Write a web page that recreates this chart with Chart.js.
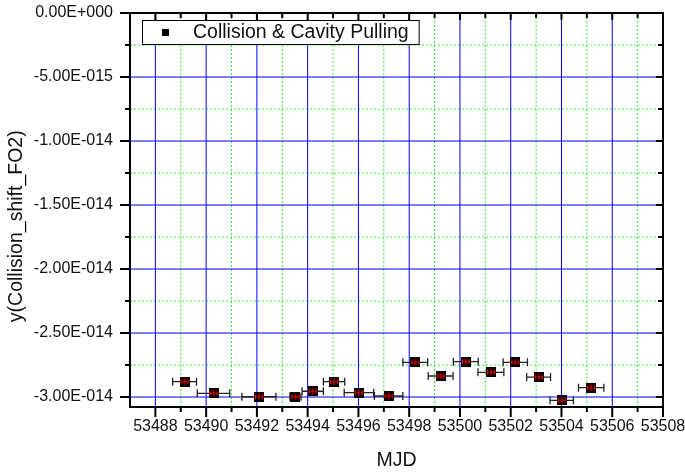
<!DOCTYPE html>
<html>
<head>
<meta charset="utf-8">
<script src="https://cdn.jsdelivr.net/npm/chart.js@4/dist/chart.umd.min.js"></script>
<style>
  html, body { margin: 0; padding: 0; background: #ffffff; }
  canvas { display: block; }
</style>
</head>
<body>
<canvas id="chart" width="685" height="475"></canvas>
<script>
// Collision shift of FO2 versus MJD, with the MJD span of each run as x error
const mjd = [53489.15, 53490.29, 53492.08, 53493.52, 53494.20, 53495.04, 53496.02, 53497.19,
             53498.24, 53499.24, 53500.23, 53501.22, 53502.18, 53503.10, 53504.01, 53505.17];
const mjdErr = [0.47, 0.64, 0.67, 0.22, 0.42, 0.42, 0.58, 0.56,
                0.49, 0.49, 0.49, 0.51, 0.48, 0.47, 0.46, 0.50];
const collisionShift = [-2.880e-14, -2.971e-14, -2.998e-14, -2.998e-14, -2.955e-14, -2.880e-14, -2.966e-14, -2.992e-14,
                        -2.729e-14, -2.836e-14, -2.724e-14, -2.807e-14, -2.729e-14, -2.844e-14, -3.026e-14, -2.927e-14];

const xTicks = [53488, 53490, 53492, 53494, 53496, 53498, 53500, 53502, 53504, 53506, 53508];
const xMinorTicks = [53489, 53491, 53493, 53495, 53497, 53499, 53501, 53503, 53505, 53507];
const yTicks = [0, -5e-15, -1e-14, -1.5e-14, -2e-14, -2.5e-14, -3e-14];
const yMinorTicks = [-2.5e-15, -7.5e-15, -1.25e-14, -1.75e-14, -2.25e-14, -2.75e-14];

const seriesLabel = 'Collision & Cavity Pulling';
const xTitle = 'MJD';
const yTitle = 'y(Collision_shift_FO2)';

const FONT = "'Liberation Sans', Arial, Helvetica, sans-serif";

// Origin-style exponent label: -5.00E-015
function sci(v) {
  if (Math.abs(v) < 1e-30) return '0.00E+000';
  const parts = v.toExponential(2).split('e');
  const n = parseInt(parts[1], 10);
  return parts[0] + 'E' + (n < 0 ? '-' : '+') + String(Math.abs(n)).padStart(3, '0');
}

// Marker: black square with a red cross bar
function makeMarker(size) {
  const c = document.createElement('canvas');
  c.width = size; c.height = size;
  const g = c.getContext('2d');
  g.fillStyle = '#000000';
  g.fillRect(0, 0, size, size);
  g.strokeStyle = '#ff0000';
  g.lineWidth = 1;
  const m = size / 2;
  g.beginPath();
  g.moveTo(1, m); g.lineTo(size - 1, m);
  g.moveTo(1.5, m - 2.5); g.lineTo(1.5, m + 2.5);
  g.moveTo(size - 1.5, m - 2.5); g.lineTo(size - 1.5, m + 2.5);
  g.moveTo(m, m - 3.5); g.lineTo(m, m + 3.5);
  g.stroke();
  return c;
}

const points = mjd.map((x, i) => ({ x: x, y: collisionShift[i], xErr: mjdErr[i] }));

const gridPlugin = {
  id: 'originGrid',
  beforeDatasetsDraw(chart) {
    const { ctx, chartArea: a, scales: { x, y } } = chart;
    ctx.save();
    ctx.beginPath();
    ctx.rect(a.left, a.top, a.right - a.left, a.bottom - a.top);
    ctx.clip();
    // minor grid: green dotted
    ctx.strokeStyle = '#33ee33';
    ctx.lineWidth = 1;
    ctx.setLineDash([2, 2]);
    ctx.beginPath();
    xMinorTicks.forEach(v => { const p = x.getPixelForValue(v); ctx.moveTo(p, a.top); ctx.lineTo(p, a.bottom); });
    yMinorTicks.forEach(v => { const p = y.getPixelForValue(v); ctx.moveTo(a.left, p); ctx.lineTo(a.right, p); });
    ctx.stroke();
    // major grid: blue solid
    ctx.setLineDash([]);
    ctx.strokeStyle = '#0000ff';
    ctx.beginPath();
    xTicks.forEach(v => { const p = x.getPixelForValue(v); ctx.moveTo(p, a.top); ctx.lineTo(p, a.bottom); });
    yTicks.forEach(v => { const p = y.getPixelForValue(v); ctx.moveTo(a.left, p); ctx.lineTo(a.right, p); });
    ctx.stroke();
    ctx.restore();

    // horizontal error bars
    ctx.save();
    ctx.strokeStyle = '#222222';
    ctx.lineWidth = 1.3;
    chart.data.datasets[0].data.forEach(d => {
      const py = y.getPixelForValue(d.y);
      const x0 = x.getPixelForValue(d.x - d.xErr);
      const x1 = x.getPixelForValue(d.x + d.xErr);
      ctx.beginPath();
      ctx.moveTo(x0, py); ctx.lineTo(x1, py);
      ctx.moveTo(x0, py - 4); ctx.lineTo(x0, py + 4);
      ctx.moveTo(x1, py - 4); ctx.lineTo(x1, py + 4);
      ctx.stroke();
    });
    ctx.restore();
  },
  afterDraw(chart) {
    const { ctx, chartArea: a, scales: { x, y } } = chart;
    ctx.save();
    ctx.strokeStyle = '#000000';
    ctx.lineWidth = 2;
    ctx.strokeRect(a.left, a.top, a.right - a.left, a.bottom - a.top);
    ctx.beginPath();
    xTicks.forEach(v => {
      const p = x.getPixelForValue(v);
      ctx.moveTo(p, a.bottom); ctx.lineTo(p, a.bottom + 10);
      ctx.moveTo(p, a.top); ctx.lineTo(p, a.top + 7);
    });
    xMinorTicks.forEach(v => {
      const p = x.getPixelForValue(v);
      ctx.moveTo(p, a.bottom); ctx.lineTo(p, a.bottom + 5);
      ctx.moveTo(p, a.top); ctx.lineTo(p, a.top + 5);
    });
    yTicks.forEach(v => {
      const p = y.getPixelForValue(v);
      ctx.moveTo(a.left, p); ctx.lineTo(a.left - 10, p);
      ctx.moveTo(a.right, p); ctx.lineTo(a.right - 7, p);
    });
    yMinorTicks.forEach(v => {
      const p = y.getPixelForValue(v);
      ctx.moveTo(a.left, p); ctx.lineTo(a.left - 5, p);
      ctx.moveTo(a.right, p); ctx.lineTo(a.right - 5, p);
    });
    ctx.stroke();

    // legend box
    const label = chart.data.datasets[0].label;
    ctx.font = '19.5px ' + FONT;
    const tw = ctx.measureText(label).width;
    const bx = a.left + 12, by = a.top + 7, bh = 24;
    const bw = 51 + tw + 10;
    ctx.fillStyle = '#ffffff';
    ctx.fillRect(bx, by, bw, bh);
    ctx.lineWidth = 1;
    ctx.strokeStyle = '#000000';
    ctx.strokeRect(bx + 0.5, by + 0.5, bw, bh);
    ctx.fillStyle = '#000000';
    ctx.fillRect(bx + 20, by + 9, 7, 7);
    ctx.textBaseline = 'middle';
    ctx.textAlign = 'left';
    ctx.fillStyle = '#111111';
    ctx.fillText(label, bx + 51, by + bh / 2 + 1);
    ctx.restore();
  }
};

new Chart(document.getElementById('chart'), {
  type: 'scatter',
  data: {
    datasets: [{
      label: seriesLabel,
      data: points,
      pointStyle: makeMarker(10),
      pointRadius: 5,
      pointHoverRadius: 5,
      showLine: false
    }]
  },
  options: {
    responsive: false,
    animation: false,
    events: [],
    layout: { padding: { top: 13, right: 22, left: 0, bottom: 0 } },
    plugins: { legend: { display: false }, tooltip: { enabled: false } },
    scales: {
      x: {
        type: 'linear',
        min: 53487,
        max: 53508,
        afterBuildTicks: s => { s.ticks = xTicks.map(v => ({ value: v })); },
        afterFit: s => { s.height = 68; s.paddingLeft = 0; s.paddingRight = 0; },
        grid: { display: false, drawTicks: false },
        border: { display: false },
        ticks: {
          autoSkip: false, maxRotation: 0, padding: 10,
          color: '#111111', font: { family: FONT, size: 16 },
          callback: v => String(Math.round(v))
        },
        title: {
          display: true, text: xTitle, color: '#111111',
          font: { family: FONT, size: 19.5 },
          padding: { top: 0, bottom: 3 }
        }
      },
      y: {
        type: 'linear',
        min: -3.078e-14,
        max: 0,
        afterBuildTicks: s => { s.ticks = yTicks.map(v => ({ value: v })); },
        afterFit: s => { s.width = 130; s.paddingTop = 0; s.paddingBottom = 0; },
        grid: { display: false, drawTicks: false },
        border: { display: false },
        ticks: {
          autoSkip: false, padding: 17,
          color: '#111111', font: { family: FONT, size: 16 },
          callback: v => sci(v)
        },
        title: {
          display: true,
          // trailing spaces push the centred title a little toward the bottom of the axis
          text: yTitle + '      ',
          color: '#111111',
          font: { family: FONT, size: 19.5 },
          padding: { top: 5, bottom: 0 }
        }
      }
    }
  },
  plugins: [gridPlugin]
});
</script>
</body>
</html>
